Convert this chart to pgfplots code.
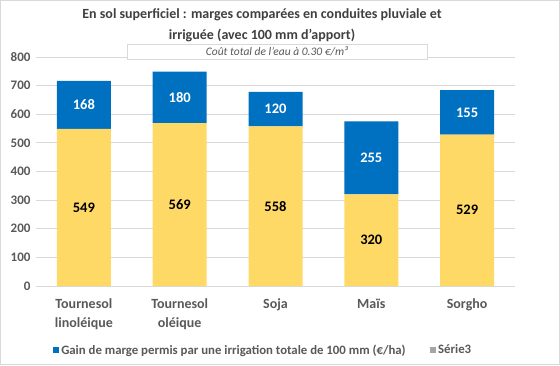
\documentclass[border=0pt]{standalone}
\usepackage{pgfplots}
\pgfplotsset{compat=1.18}
\usepackage{fontspec}
\setmainfont{Carlito}
\definecolor{cyel}{HTML}{FFD966}
\definecolor{cblue}{HTML}{0070C0}
\definecolor{cgrey}{HTML}{A5A5A5}
\definecolor{ctext}{HTML}{595959}
\definecolor{ctitle}{HTML}{404040}
\definecolor{cgrid}{HTML}{D9D9D9}
\tikzset{lblk/.style={font=\fontsize{14.5}{16}\selectfont\bfseries, text=black},
         lblw/.style={font=\fontsize{14.5}{16}\selectfont\bfseries, text=white}}
\begin{document}
\begin{tikzpicture}[x=1pt,y=1pt]
\fill[white] (0,0) rectangle (560,365);
\draw[cgrid] (0.5,0.5) rectangle (559.5,364.5);
\begin{axis}[
  at={(36pt,79pt)}, anchor=south west,
  scale only axis, width=479pt, height=229pt,
  ybar stacked, bar width=54pt,
  xmin=-0.5, xmax=4.5, ymin=0, ymax=800,
  ytick={0,100,...,800},
  xtick=data,
  xticklabels={{Tournesol\\linoléique},{Tournesol\\oléique},Soja,Maïs,Sorgho},
  xticklabel style={align=center, font=\fontsize{14}{19}\selectfont\bfseries, text=ctext, yshift=-9pt},
  yticklabel style={font=\fontsize{13}{14}\selectfont\bfseries, text=ctext, xshift=-2pt},
  /pgf/number format/assume math mode=true,
  ymajorgrids, grid style={cgrid, line width=0.8pt},
  axis line style={draw=none},
  tick style={draw=none},
  legend style={at={(0.474,-0.28)}, anchor=center, draw=none, fill=none,
    font=\fontsize{12.8}{14}\selectfont\bfseries, text=ctext,
    legend columns=2, /tikz/every even column/.append style={column sep=22pt}},
  legend image code/.code={\fill (0pt,-3.2pt) rectangle (6.4pt,3.2pt);},
]
\addplot[fill=cyel, draw=none, forget plot] coordinates {(0,549) (1,569) (2,558) (3,320) (4,529)};
\addplot[fill=cblue, draw=none] coordinates {(0,168) (1,180) (2,120) (3,255) (4,155)};
\addlegendentry{Gain de marge permis par une irrigation totale de 100 mm (€/ha)}
\addlegendimage{fill=cgrey, draw=none}
\addlegendentry{Série3}
\coordinate (y0) at (axis cs:0,274.5);
\coordinate (y1) at (axis cs:1,284.5);
\coordinate (y2) at (axis cs:2,279);
\coordinate (y3) at (axis cs:3,160);
\coordinate (y4) at (axis cs:4,264.5);
\coordinate (b0) at (axis cs:0,633);
\coordinate (b1) at (axis cs:1,659);
\coordinate (b2) at (axis cs:2,618);
\coordinate (b3) at (axis cs:3,447.5);
\coordinate (b4) at (axis cs:4,606.5);
\end{axis}
\node[lblk] at (y0) {549};
\node[lblk] at (y1) {569};
\node[lblk] at (y2) {558};
\node[lblk] at (y3) {320};
\node[lblk] at (y4) {529};
\node[lblw] at (b0) {168};
\node[lblw] at (b1) {180};
\node[lblw] at (b2) {120};
\node[lblw] at (b3) {255};
\node[lblw] at (b4) {155};
\node[font=\fontsize{14}{16}\selectfont\bfseries, text=ctitle] at (262,350) {En sol superficiel : marges comparées en conduites pluviale et};
\node[font=\fontsize{14}{16}\selectfont\bfseries, text=ctitle] at (262,330) {irriguée (avec 100 mm d'apport)};
\node[draw=cgrid, fill=white, minimum width=300pt, minimum height=15pt, inner sep=0pt, font=\fontsize{11.5}{12}\selectfont\itshape, text=ctext] at (277,313.5) {Coût total de l'eau à 0.30 €/m³};
\end{tikzpicture}
\end{document}
